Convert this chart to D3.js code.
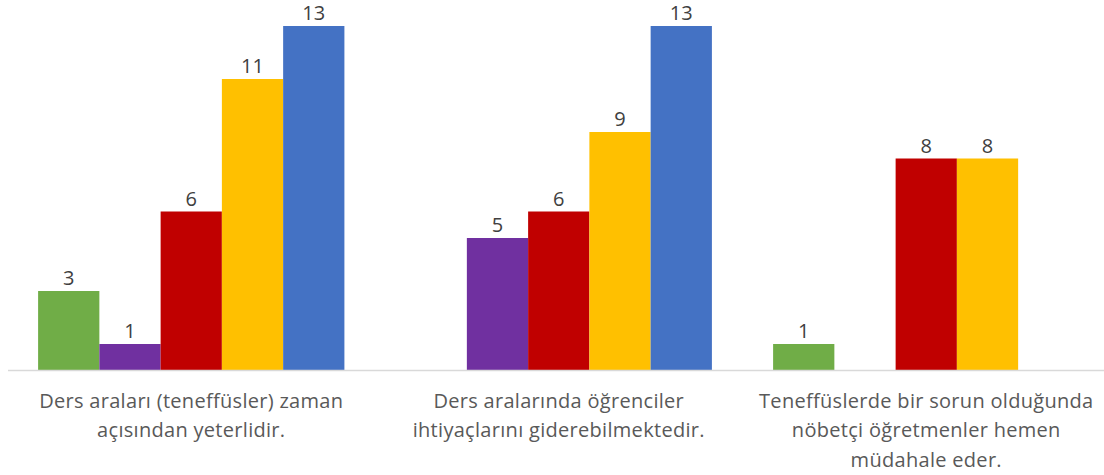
<!DOCTYPE html>
<html lang="tr">
<head>
<meta charset="utf-8">
<title>Teneffüs anketi</title>
<script src="https://d3js.org/d3.v7.min.js"></script>
<style>
  body { margin: 0; background: #fff; }
  .cat text { fill: #595959; font-family: "Open Sans", sans-serif; font-size: 20px; letter-spacing: 0.3px; }
  .val { fill: #404040; font-family: "Open Sans", sans-serif; font-size: 20px; }
</style>
</head>
<body>
<div id="chart"></div>
<script>
var width = 1104, height = 475;

// categories (each label split into its lines)
var categories = ["c1", "c2", "c3"];
var categoryLines = [
  ["Ders araları (teneffüsler) zaman", "açısından yeterlidir."],
  ["Ders aralarında öğrenciler", "ihtiyaçlarını giderebilmektedir."],
  ["Teneffüslerde bir sorun olduğunda", "nöbetçi öğretmenler hemen", "müdahale eder."]
];
var series = ["s1", "s2", "s3", "s4", "s5"];
var colors = ["#70ad47", "#7030a0", "#c00000", "#ffc000", "#4472c4"];
// values per series, by category (null = no bar)
var s1 = [3, null, 1];
var s2 = [1, 5, null];
var s3 = [6, 6, 8];
var s4 = [11, 9, 8];
var s5 = [13, 13, null];
var values = [s1, s2, s3, s4, s5];

var svg = d3.select("#chart").append("svg")
    .attr("width", width)
    .attr("height", height);

var x0 = d3.scaleBand()
    .domain(categories)
    .range([7.5, 1110])
    .padding(0);

var x1 = d3.scaleBand()
    .domain(series)
    .range([30.6, x0.bandwidth() - 30.6])
    .padding(0);

var y = d3.scaleLinear()
    .domain([0, 13])
    .range([370.5, 26]);

var bars = [];
series.forEach(function(s, i) {
  categories.forEach(function(c, j) {
    if (values[i][j] != null) bars.push({ s: s, c: c, v: values[i][j], color: colors[i] });
  });
});

svg.append("g")
  .selectAll("rect")
  .data(bars)
  .enter().append("rect")
    .attr("x", function(d) { return x0(d.c) + x1(d.s); })
    .attr("y", function(d) { return y(d.v); })
    .attr("width", x1.bandwidth())
    .attr("height", function(d) { return y(0) - y(d.v); })
    .attr("fill", function(d) { return d.color; });

svg.append("g")
  .selectAll("text")
  .data(bars)
  .enter().append("text")
    .attr("class", "val")
    .attr("x", function(d) { return x0(d.c) + x1(d.s) + x1.bandwidth() / 2; })
    .attr("y", function(d) { return y(d.v) - 6; })
    .attr("text-anchor", "middle")
    .text(function(d) { return d.v; });

// axis
var axis = svg.append("g")
    .attr("class", "cat")
    .attr("transform", "translate(0," + y(0) + ")")
    .call(d3.axisBottom(x0).tickSize(0).tickFormat(""));
axis.select(".domain").attr("stroke", "#d9d9d9").attr("stroke-width", 1.5)
    .attr("d", "M8,0H1104");

axis.selectAll(".tick").each(function(d, i) {
  var t = d3.select(this).append("text")
      .attr("text-anchor", "middle")
      .attr("y", 37);
  categoryLines[i].forEach(function(line, k) {
    t.append("tspan")
      .attr("x", 0)
      .attr("dy", k === 0 ? 0 : 29.5)
      .text(line);
  });
});
</script>
</body>
</html>
